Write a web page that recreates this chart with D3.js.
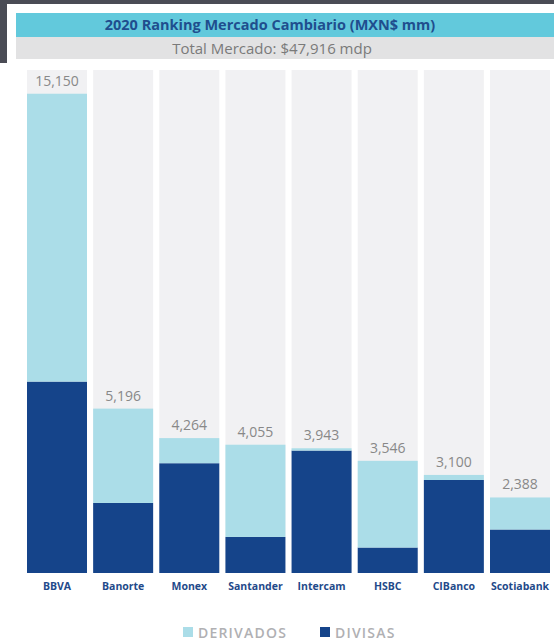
<!DOCTYPE html>
<html><head><meta charset="utf-8">
<script src="https://cdn.jsdelivr.net/npm/d3@7"></script>
<style>body{margin:0;background:#fff;overflow:hidden}svg{display:block}</style>
</head><body>
<svg id="c" width="554" height="641"></svg>
<script>
const categories = ["BBVA","Banorte","Monex","Santander","Intercam","HSBC","CIBanco","Scotiabank"];
const totals = [15150,5196,4264,4055,3943,3546,3100,2388];
const divisas = [6050,2215,3470,1140,3870,805,2940,1375];
const derivados = totals.map((t,i)=>t-divisas[i]);
const totalLabels = ["15,150","5,196","4,264","4,055","3,943","3,546","3,100","2,388"];
const seriesNames = ["DERIVADOS","DIVISAS"];
const title = "2020 Ranking Mercado Cambiario (MXN$ mm)";
const subtitle = "Total Mercado: $47,916 mdp";

const svg = d3.select("#c");
const W=554,H=641;
const cLight="#abdde8", cDark="#15448a", cBg="#f1f1f3";
const FF = "'Open Sans', Lato, sans-serif";

// dark frame
svg.append("rect").attr("x",0).attr("y",0).attr("width",W).attr("height",4).attr("fill","#4a4c55");
svg.append("rect").attr("x",0).attr("y",0).attr("width",7).attr("height",63).attr("fill","#4a4c55");

// title bars
svg.append("rect").attr("x",16).attr("y",13).attr("width",W-16).attr("height",24).attr("fill","#62c9dc");
svg.append("rect").attr("x",16).attr("y",37).attr("width",W-16).attr("height",22).attr("fill","#e2e2e3");
svg.append("text").attr("x",270).attr("y",30).attr("text-anchor","middle")
  .attr("font-family",FF).attr("font-weight","700").attr("font-size",14.5)
  .attr("fill","#1f4e8e").text(title);
svg.append("text").attr("x",272).attr("y",53.5).attr("text-anchor","middle")
  .attr("font-family",FF).attr("font-size",15)
  .attr("fill","#7a7a7a").text(subtitle);

const x = d3.scaleBand().domain(categories).range([27,550]).paddingInner(0.093).paddingOuter(0);
const y = d3.scaleLinear().domain([0,15900]).range([573,70]);

const g = svg.append("g");
g.selectAll(".bg").data(categories).join("rect")
  .attr("x",d=>x(d)).attr("y",y(15900)).attr("width",x.bandwidth()).attr("height",y(0)-y(15900)).attr("fill",cBg);
g.selectAll(".dv").data(categories).join("rect")
  .attr("x",d=>x(d)).attr("y",(d,i)=>y(divisas[i])).attr("width",x.bandwidth())
  .attr("height",(d,i)=>y(0)-y(divisas[i])).attr("fill",cDark);
g.selectAll(".de").data(categories).join("rect")
  .attr("x",d=>x(d)).attr("y",(d,i)=>y(totals[i])).attr("width",x.bandwidth())
  .attr("height",(d,i)=>y(divisas[i])-y(totals[i])).attr("fill",cLight);
g.selectAll(".vl").data(categories).join("text")
  .attr("x",d=>x(d)+x.bandwidth()/2).attr("y",(d,i)=>y(totals[i])-8)
  .attr("text-anchor","middle").attr("font-family",FF)
  .attr("font-size",14).attr("fill","#888").text((d,i)=>totalLabels[i]);

const ax = svg.append("g").attr("transform","translate(0,573)")
  .call(d3.axisBottom(x).tickSize(0).tickPadding(10));
ax.select(".domain").remove();
ax.selectAll("text").attr("font-family",FF).attr("font-weight","700")
  .attr("font-size",10.5).attr("fill","#1f4a8a");

const lg = svg.append("g").attr("transform","translate(0,632)");
const lx = [183,320];
const lc = [cLight,cDark];
seriesNames.forEach((s,i)=>{
  lg.append("rect").attr("x",lx[i]).attr("y",-5).attr("width",10).attr("height",10).attr("fill",lc[i]);
  lg.append("text").attr("x",lx[i]+15).attr("y",5.5).attr("font-family",FF)
    .attr("font-weight","600").attr("font-size",14).attr("letter-spacing","1.2").attr("fill","#b0b0b3").text(s);
});
</script>
</body></html>
